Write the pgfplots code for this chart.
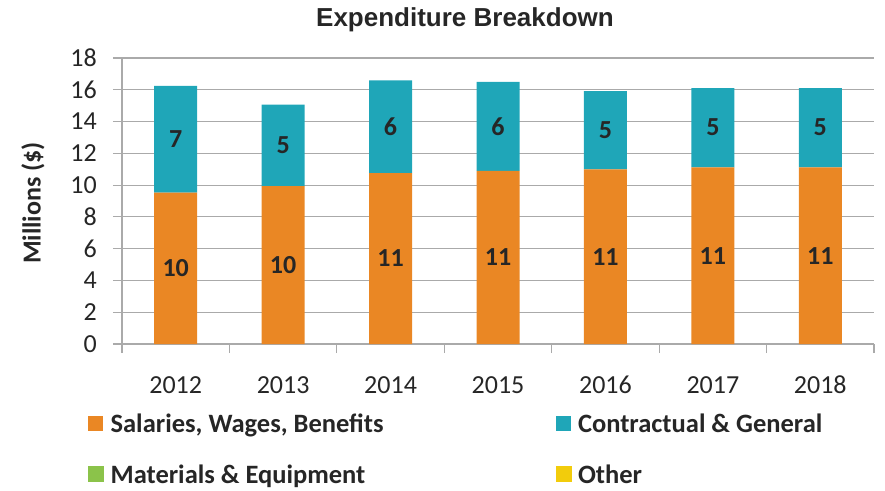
\documentclass[border=0pt]{standalone}
\usepackage{pgfplots}
\usepackage{pgfplotstable}
\pgfplotsset{compat=1.18}
\usepackage{fontspec}
\setmainfont{Carlito}
\newfontfamily\arialfont{Liberation Sans}
\definecolor{salc}{RGB}{234,135,36}
\definecolor{conc}{RGB}{31,166,184}
\definecolor{matc}{RGB}{139,195,74}
\definecolor{othc}{RGB}{242,204,12}
\definecolor{gridc}{RGB}{170,170,170}
\definecolor{txtc}{RGB}{38,38,38}

% values (millions $) and the rounded data labels, with the heights at which the labels sit
\pgfplotstableread{
x sal sallab salpos con conlab conpos
1 9.52  10 4.76  6.72 7 12.88
2 9.94  10 4.97  5.12 5 12.50
3 10.76 11 5.38  5.83 6 13.68
4 10.89 11 5.45  5.60 6 13.69
5 10.99 11 5.50  4.93 5 13.46
6 11.12 11 5.56  4.99 5 13.62
7 11.12 11 5.56  4.99 5 13.62
}\datatable

\pgfplotsset{
  commonaxis/.style={
    at={(0pt,0pt)}, anchor=south west,
    scale only axis, width=752pt, height=286pt,
    xmin=0.5, xmax=7.5, ymin=0, ymax=18,
  }
}

\begin{document}
\begin{tikzpicture}[font=\fontsize{26}{30}\selectfont]
\useasboundingbox (-122pt,-146pt) rectangle (763pt,344pt);
\begin{axis}[
  commonaxis,
  ybar stacked, bar width=43pt,
  ytick={0,2,...,18},
  xtick={0.5,1.5,...,7.5}, xticklabels={},
  extra x ticks={1,2,...,7},
  extra x tick labels={2012,2013,2014,2015,2016,2017,2018},
  extra x tick style={major tick length=0pt, xticklabel style={yshift=-32pt}},
  axis lines*=left,
  axis line style={-, gridc, line width=1.2pt},
  ymajorgrids, grid style={gridc, line width=1.2pt},
  major tick length=9pt, tick align=outside,
  tick style={gridc, line width=1.2pt},
  /pgf/number format/assume math mode=true,
  tick label style={font=\fontsize{26}{30}\selectfont, text=txtc},
  yticklabel style={inner sep=0pt, xshift=-16pt},
  xticklabel style={inner sep=0pt},
  legend columns=2,
  legend style={draw=none, fill=none, inner sep=0pt, row sep=32pt,
    at={(axis description cs:-0.0452,-0.245)}, anchor=north west,
    font=\fontsize{26.5}{30}\selectfont\bfseries, text=txtc,
    /tikz/every even column/.append style={column sep=172pt},
    nodes={inner sep=0pt, text depth=0pt}},
  legend cell align=left,
]
\addplot[fill=salc, draw=none, legend image code/.code={\fill[salc] (0pt,-7pt) rectangle (15pt,8pt);}] table[x=x, y=sal] {\datatable};
\addlegendentry{\hspace{7pt}Salaries, Wages, Benefits}
\addplot[fill=conc, draw=none, legend image code/.code={\fill[conc] (0pt,-7pt) rectangle (15pt,8pt);}] table[x=x, y=con] {\datatable};
\addlegendentry{\hspace{7pt}Contractual \& General}
\addlegendimage{legend image code/.code={\fill[matc] (0pt,-7pt) rectangle (15pt,8pt);}}
\addlegendentry{\hspace{7pt}Materials \& Equipment}
\addlegendimage{legend image code/.code={\fill[othc] (0pt,-7pt) rectangle (15pt,8pt);}}
\addlegendentry{\hspace{7pt}Other}
\end{axis}
\begin{axis}[
  commonaxis, hide axis, clip=false,
  nodes near coords, point meta=explicit symbolic,
  nodes near coords style={anchor=center, inner sep=0pt, font=\fontsize{26}{30}\selectfont\bfseries, text=txtc},
]
\addplot[draw=none, mark=none] table[x=x, y=salpos, meta=sallab] {\datatable};
\addplot[draw=none, mark=none] table[x=x, y=conpos, meta=conlab] {\datatable};
\end{axis}
\node[font=\arialfont\bfseries\fontsize{26}{30}\selectfont, text=txtc] at (343pt,324pt) {Expenditure Breakdown};
\node[rotate=90, font=\fontsize{26}{30}\selectfont\bfseries, text=txtc] at (-89pt,141pt) {Millions (\$)};
\end{tikzpicture}
\end{document}
